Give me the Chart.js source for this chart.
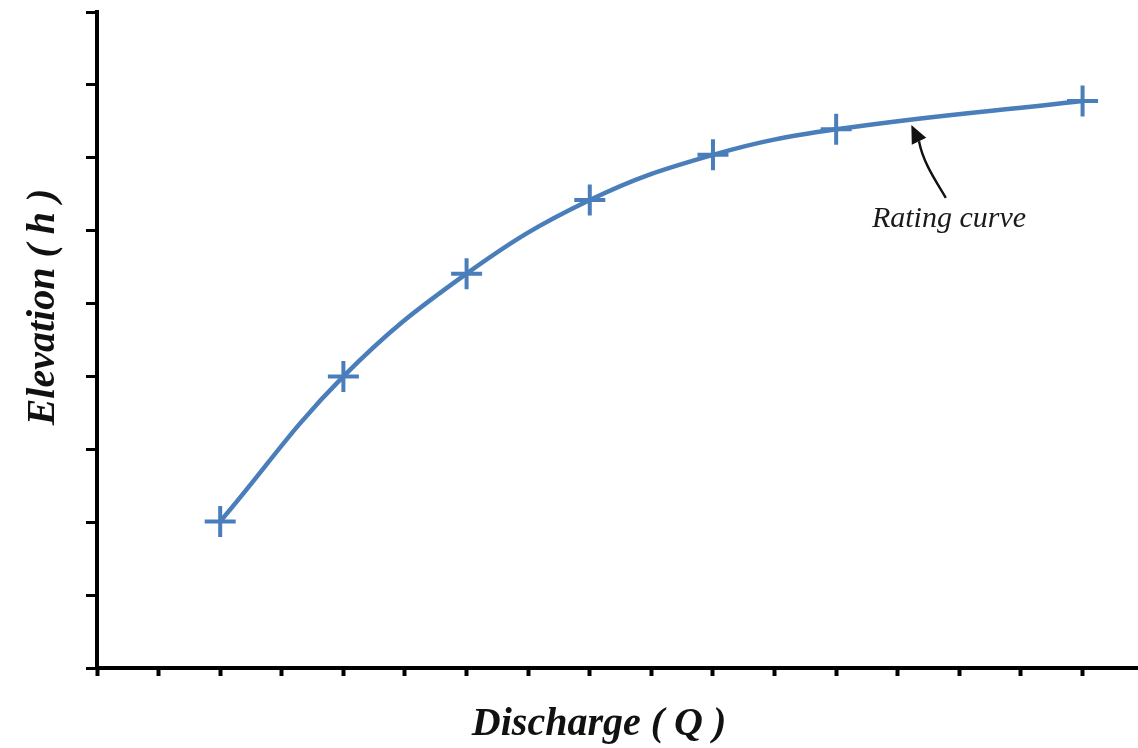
<!DOCTYPE html>
<html>
<head>
<meta charset="utf-8">
<script src="https://cdn.jsdelivr.net/npm/chart.js@4.4.1/dist/chart.umd.min.js"></script>
<style>
  html, body { margin: 0; padding: 0; background: #ffffff; overflow: hidden; }
  canvas { display: block; }
</style>
</head>
<body>
<canvas id="c" width="1138" height="748"></canvas>
<script>
// Stage–discharge observations (discharge Q, elevation h)
const discharge = [2, 4, 6, 8, 10, 12, 16];
const elevation = [2.01, 4.0, 5.41, 6.42, 7.04, 7.39, 7.78];

// Axis tick positions (unlabelled)
const xTicks = [0, 1, 2, 3, 4, 5, 6, 7, 8, 9, 10, 11, 12, 13, 14, 15, 16];
const yTicks = [0, 1, 2, 3, 4, 5, 6, 7, 8, 9];

// Text
const xTitle = 'Discharge ( Q )';
const yTitle = 'Elevation ( h )';
const curveLabel = 'Rating curve';

// Callout arrow (data units): tail near label, tip at the curve
const arrowTail = [13.78, 6.45];
const arrowTip = [13.22, 7.45];
const labelAt = [12.58, 6.05];

const BLUE = '#4a7ebb';

const decorations = {
  id: 'decorations',
  afterDraw(chart) {
    const { ctx, scales: { x, y }, chartArea } = chart;
    ctx.save();

    // Axis titles
    ctx.fillStyle = '#111111';
    ctx.font = 'italic bold 40px "Liberation Serif", "DejaVu Serif", serif';
    ctx.textAlign = 'center';
    ctx.textBaseline = 'alphabetic';
    const xMid = (x.getPixelForValue(0) + x.getPixelForValue(16.3)) / 2;
    ctx.fillText(xTitle, xMid, chartArea.bottom + 67);

    ctx.save();
    ctx.translate(chartArea.left - 43, (y.getPixelForValue(0) + y.getPixelForValue(9)) / 2 - 33);
    ctx.rotate(-Math.PI / 2);
    ctx.fillText(yTitle, 0, 0);
    ctx.restore();

    // Callout label
    ctx.font = 'italic 30px "Liberation Serif", "DejaVu Serif", serif';
    ctx.textAlign = 'left';
    ctx.fillStyle = '#1a1a1a';
    ctx.fillText(curveLabel, x.getPixelForValue(labelAt[0]), y.getPixelForValue(labelAt[1]));

    // Callout arrow
    const tx = x.getPixelForValue(arrowTail[0]), ty = y.getPixelForValue(arrowTail[1]);
    const hx = x.getPixelForValue(arrowTip[0]), hy = y.getPixelForValue(arrowTip[1]);
    const ang = Math.atan2(hy - ty, hx - tx);
    const headLen = 18, headW = 8;
    const bx = hx - headLen * Math.cos(ang), by = hy - headLen * Math.sin(ang);
    ctx.strokeStyle = '#111111';
    ctx.lineWidth = 2.4;
    ctx.beginPath();
    ctx.moveTo(tx, ty);
    ctx.bezierCurveTo(tx - 8, ty - 14, bx + 4, by + 22, bx, by);
    ctx.stroke();
    ctx.fillStyle = '#111111';
    ctx.beginPath();
    ctx.moveTo(hx, hy);
    ctx.lineTo(bx + headW * Math.sin(ang), by - headW * Math.cos(ang));
    ctx.lineTo(bx - headW * Math.sin(ang), by + headW * Math.cos(ang));
    ctx.closePath();
    ctx.fill();

    ctx.restore();
  }
};

new Chart(document.getElementById('c'), {
  type: 'line',
  data: {
    datasets: [{
      data: discharge.map((q, i) => ({ x: q, y: elevation[i] })),
      borderColor: BLUE,
      backgroundColor: BLUE,
      borderWidth: 4.5,
      tension: 0.4,
      pointStyle: 'cross',
      pointRadius: 15.5,
      pointHoverRadius: 15.5,
      pointBorderWidth: 4,
      pointBorderColor: BLUE,
      fill: false,
      clip: false
    }]
  },
  options: {
    responsive: false,
    animation: false,
    events: [],
    layout: { autoPadding: false, padding: { left: 86, top: 12, right: 0, bottom: 72 } },
    plugins: { legend: { display: false }, tooltip: { enabled: false }, title: { display: false } },
    scales: {
      x: {
        type: 'linear',
        min: 0,
        max: 16.9,
        afterBuildTicks: (s) => { s.ticks = xTicks.map(v => ({ value: v })); },
        ticks: { display: false },
        grid: { drawOnChartArea: false, drawTicks: true, tickLength: 8, tickWidth: 4, tickColor: '#000000' },
        border: { display: true, color: '#000000', width: 4 }
      },
      y: {
        type: 'linear',
        min: 0,
        max: 9,
        afterBuildTicks: (s) => { s.ticks = yTicks.map(v => ({ value: v })); },
        ticks: { display: false },
        grid: { drawOnChartArea: false, drawTicks: true, tickLength: 11, tickWidth: 3, tickColor: '#000000' },
        border: { display: true, color: '#000000', width: 4 }
      }
    }
  },
  plugins: [decorations]
});
</script>
</body>
</html>
